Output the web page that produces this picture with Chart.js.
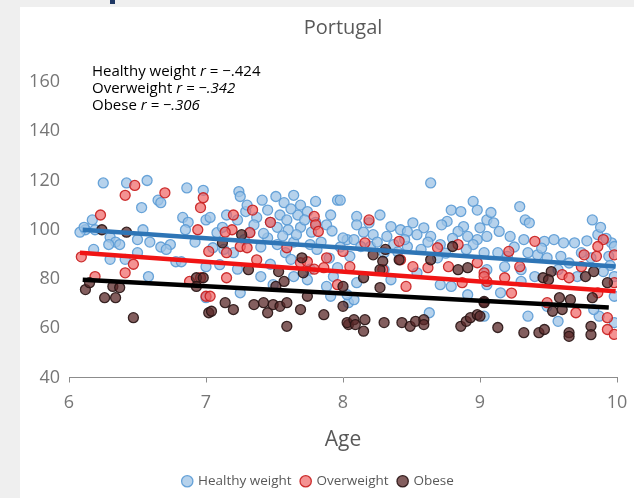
<!DOCTYPE html>
<html>
<head>
<meta charset="utf-8">
<script src="https://cdn.jsdelivr.net/npm/chart.js@4/dist/chart.umd.min.js"></script>
<style>
  html, body { margin: 0; padding: 0; background: #efefef; }
  #wrap { position: absolute; left: 20px; top: 7px; width: 614px; height: 491px; background: #fff; }
  #mark { position: absolute; left: 110px; top: 0; width: 5px; height: 4px; background: #1f3864; }
</style>
</head>
<body>
<div id="mark"></div>
<div id="wrap"><canvas id="chart" width="614" height="491"></canvas></div>
<script>
// [age, weight] pairs
const healthy = [
  [6.25,119],[6.42,119],[6.57,120],[6.53,109],[6.65,112],[6.67,111],[6.86,117],[6.98,116],[6.17,104],[6.12,100],
  [6.19,100],[6.3,97],[6.34,95],[6.37,94],[6.29,94],[6.5,96],[6.54,100],[6.59,95],[6.67,93],[6.74,94],
  [6.71,92],[6.83,105],[6.87,103],[6.85,100],[6.92,95],[7.0,104],[6.18,92],[6.3,88],[6.41,88],[6.5,90.7],
  [6.78,87],[6.82,87],[6.58,81],[7.0,72.4],[6.08,99],[6.11,101],
  [7.24,115.5],[7.25,113.5],[7.41,112],[7.51,113.5],[7.64,114],[7.8,111.5],[7.96,112],[7.57,111],[7.69,110],[7.03,105],
  [7.15,106],[7.23,104],[7.29,107.4],[7.37,105],[7.54,106],[7.59,104],[7.67,106],[7.74,107.4],[7.8,103],[7.91,106],
  [7.88,102],[7.52,101],[7.6,100],[7.69,101],[7.45,96.7],[7.32,99],[7.08,98.8],[7.05,92.7],[7.13,92],[7.2,90.7],
  [7.4,93],[7.52,94],[7.64,95],[7.76,94],[7.84,95],[7.98,93],[8.03,96],[7.0,85],[7.1,85.8],[7.23,84],
  [7.4,81],[7.64,81],[7.74,79.7],[7.76,84],[7.93,81],[7.96,84.6],[7.25,74.4],[7.49,77.7],[7.88,77],[7.91,73],
  [8.04,70.4],[7.81,92],[7.58,90.7],[7.3,110],[7.45,108],[7.62,108.5],[7.72,104],[7.47,103],[7.35,102],[7.56,97.5],
  [7.66,98],[7.77,99],[7.92,99.5],[7.12,101],[7.42,98.5],[7.28,96],[7.9,88.5],[7.62,88],[7.47,86],
  [8.64,119],[8.95,111.5],[8.98,108],[8.79,108],[8.86,107.4],[8.27,106],[8.1,105.4],[8.1,102],[8.19,102.8],[8.35,101.3],
  [8.42,100],[8.51,102.8],[8.59,100.8],[8.76,103.4],[8.72,102],[8.88,101.3],[9.0,100.8],[9.05,104],[8.0,96.7],[8.08,96],
  [8.22,98],[8.32,97.3],[8.47,99.3],[8.54,98],[8.64,97.3],[8.84,99.3],[8.91,97.3],[8.98,96],[8.13,93.2],[8.2,93.2],
  [8.37,94],[8.47,93.2],[8.71,94],[8.95,94],[8.3,90.7],[8.57,92],[8.69,88.6],[8.05,89.2],[8.3,83.8],[8.35,79.7],
  [8.71,77.7],[8.79,77],[8.54,82.5],[8.1,78.5],[8.08,71.6],[8.03,73.6],[8.63,66.3],[9.03,64.9],[8.91,73.6],[9.05,77.7],
  [7.98,112],[8.15,99],[8.45,96],[8.62,95],[8.8,96.5],[8.9,92],[8.25,95],[8.4,91],[8.75,90.5],
  [9.29,109.4],[9.33,104],[9.36,102.8],[9.82,104],[9.08,107],[9.1,102.8],[9.14,99.3],[9.22,97.3],[9.32,96],[9.47,95.3],
  [9.54,96],[9.61,94.7],[9.69,94.7],[9.86,98],[9.96,94.7],[9.98,93.2],[9.03,90.7],[9.13,90.7],[9.2,89.2],[9.35,90.7],
  [9.42,89.8],[9.49,88.6],[9.59,89.2],[9.74,90.7],[9.81,88.6],[9.94,89.2],[9.05,83.8],[9.18,85],[9.3,83.8],[9.4,81],
  [9.57,83.8],[9.71,81],[9.98,81],[9.98,73],[9.15,74.4],[9.3,79],[9.35,64.9],[9.57,62.8],[9.87,64.9],[9.98,62.3],
  [9.49,68.9],[9.83,67.6],[9.05,97.3],[9.88,101],[9.92,96.5],[9.95,85.5],[9.9,83],[9.65,86.5],[9.45,92.5],[9.25,93],
  [9.78,95.5]
];
const overweight = [
  [6.48,118],[6.41,114],[6.7,115],[6.98,113],[6.96,109],[6.23,106],[6.94,100],[6.09,89],[6.47,86],[6.41,82.5],
  [6.19,81],[6.96,80.5],[6.88,79],[7.0,73],
  [7.2,106],[7.34,108],[7.47,103],[7.19,100],[7.14,99],[7.32,98.8],[7.79,105.4],[7.8,102],[7.82,99.3],[7.25,93.2],
  [7.3,92.7],[7.59,92.7],[7.02,91.2],[7.15,90.7],[7.88,88.6],[7.37,87.8],[7.69,86.6],[7.74,87],[7.79,84],[7.86,84.6],
  [7.15,80.5],[7.96,77.7],[7.03,73],
  [8.19,104],[8.41,95.3],[8.69,92.7],[8.84,94],[8.16,94.7],[8.0,91.2],[8.51,85],[8.62,84.6],[8.77,85],[8.42,87.8],
  [8.46,77],[8.98,86.6],[9.03,82.5],[8.05,85],[8.29,83.8],[8.87,78.5],[9.05,79],
  [9.4,95.3],[9.21,91.2],[9.29,85],[9.9,96],[9.86,93.2],[9.98,89.8],[9.76,89.8],[9.85,89.2],[9.6,81.8],[9.65,80.5],
  [9.74,85],[9.18,80.5],[9.23,74.3],[9.03,81],[9.98,78.5],[9.7,66.3],[9.93,64.3],[9.93,59.5],[9.98,57.5],[9.49,70.4],
  [9.86,74.4]
];
const obese = [
  [6.24,100],[6.42,99],[6.12,75.7],[6.15,78.5],[6.32,77],[6.37,76.5],[6.26,72.4],[6.34,72.4],[6.47,64.3],[6.93,80.5],
  [6.93,77],[7.02,66.3],
  [7.26,98],[7.12,94.7],[7.7,88.6],[7.31,83.8],[7.53,83],[7.71,82.5],[7.57,79],[7.51,77],[8.0,77],[6.98,80.5],
  [7.14,70.4],[7.2,67.6],[7.35,69.6],[7.42,70.4],[7.45,66.3],[7.49,69.6],[7.54,68.9],[7.59,70.4],[7.69,67.6],[7.74,73],
  [7.86,65.5],[7.04,66.9],[7.59,60.8],[8.0,68.9],[8.04,61.5],
  [8.31,92],[8.22,89.8],[8.29,87.2],[8.41,87.8],[8.64,87.8],[8.8,93.2],[8.84,83.8],[8.91,84.6],[8.27,83.8],[8.27,76.5],
  [8.15,80.5],[8.03,62.3],[8.08,63.5],[8.09,61.5],[8.16,63.5],[8.15,58.8],[8.3,62.3],[8.43,62.3],[8.49,60.8],[8.53,62.8],
  [8.59,63.5],[8.59,61.5],[8.86,60.8],[8.9,62.8],[8.93,64.3],[8.98,65.5],[9.03,70.9],
  [9.46,80.5],[9.52,83],[9.5,79.7],[9.77,81],[9.83,83],[9.93,78.5],[9.03,70.4],[9.58,72.4],[9.66,71.6],[9.82,72.4],
  [9.53,66.9],[9.6,67.6],[9.13,60.3],[9.32,58.2],[9.43,58.2],[9.47,59.5],[9.65,58.2],[9.65,56.7],[9.81,60.8],[9.81,57.4],
  [9.0,64.9]
];

// trendline end points
const healthyTrendAge = [6.1, 9.99];
const healthyTrend = [100, 85.1];
const overTrendAge = [6.08, 9.99];
const overTrend = [90.7, 75];
const obeseTrendAge = [6.1, 9.94];
const obeseTrend = [79.7, 68.4];

const notes = [
  ['Healthy weight ', 'r', ' = \u2212.424', false],
  ['Overweight ', 'r', ' = \u2212.342', true],
  ['Obese ', 'r', ' = \u2212.306', true]
];

const FONT = '"Open Sans", sans-serif';

function pts(list) { return list.map(p => ({ x: p[0], y: p[1] })); }
function line(ages, vals) { return ages.map((a, i) => ({ x: a, y: vals[i] })); }

// title and r annotations
const extras = {
  id: 'extras',
  afterDraw(chart) {
    const ctx = chart.ctx;
    ctx.save();
    ctx.fillStyle = '#595959';
    ctx.font = '20px ' + FONT;
    ctx.textAlign = 'center';
    ctx.textBaseline = 'middle';
    ctx.fillText('Portugal', 323, 21);

    ctx.textAlign = 'left';
    ctx.fillStyle = '#000';
    notes.forEach((n, i) => {
      let x = 72;
      const y = 65 + i * 17;
      ctx.font = '15px ' + FONT;
      ctx.fillText(n[0], x, y);
      x += ctx.measureText(n[0]).width;
      ctx.font = 'italic 15px ' + FONT;
      ctx.fillText(n[1], x, y);
      x += ctx.measureText(n[1]).width;
      ctx.font = (n[3] ? 'italic ' : '') + '15px ' + FONT;
      ctx.fillText(n[2], x, y);
    });
    ctx.restore();
  }
};

const ctx = document.getElementById('chart').getContext('2d');
new Chart(ctx, {
  type: 'scatter',
  data: {
    datasets: [
      {
        label: 'Healthy weight',
        data: pts(healthy),
        backgroundColor: 'rgba(157, 195, 230, 0.75)',
        borderColor: 'rgba(91, 155, 213, 0.9)',
        borderWidth: 1.3,
        pointRadius: 5,
        order: 4
      },
      {
        label: 'Overweight',
        data: pts(overweight),
        backgroundColor: 'rgba(240, 100, 100, 0.7)',
        borderColor: 'rgba(200, 30, 30, 0.9)',
        borderWidth: 1.3,
        pointRadius: 5,
        order: 3
      },
      {
        label: 'Obese',
        data: pts(obese),
        backgroundColor: 'rgba(90, 40, 40, 0.75)',
        borderColor: 'rgba(40, 20, 20, 0.9)',
        borderWidth: 1.3,
        pointRadius: 5,
        order: 2
      },
      {
        type: 'line',
        label: 'hw trend',
        data: line(healthyTrendAge, healthyTrend),
        borderColor: '#2e75b6',
        borderWidth: 4.5,
        pointRadius: 0,
        order: 1
      },
      {
        type: 'line',
        label: 'ow trend',
        data: line(overTrendAge, overTrend),
        borderColor: '#f01414',
        borderWidth: 4.5,
        pointRadius: 0,
        order: 1
      },
      {
        type: 'line',
        label: 'ob trend',
        data: line(obeseTrendAge, obeseTrend),
        borderColor: '#000',
        borderWidth: 4.5,
        pointRadius: 0,
        order: 0
      }
    ]
  },
  options: {
    responsive: false,
    animation: false,
    layout: { padding: { top: 75, right: 17, left: 0, bottom: 0 } },
    plugins: {
      tooltip: { enabled: false },
      legend: {
        position: 'bottom',
        labels: {
          usePointStyle: true,
          boxWidth: 8,
          boxHeight: 8,
          padding: 10,
          color: '#595959',
          font: { family: FONT, size: 13.5 },
          filter: item => item.datasetIndex < 3,
          sort: (a, b) => a.datasetIndex - b.datasetIndex
        }
      }
    },
    scales: {
      x: {
        type: 'linear',
        min: 6,
        max: 10,
        ticks: { stepSize: 1, color: '#767676', font: { family: FONT, size: 18 }, padding: 10 },
        grid: { drawOnChartArea: false, drawTicks: true, tickLength: 5, color: '#8c8c8c' },
        border: { display: true, color: '#8c8c8c', width: 1 },
        title: { display: true, text: 'Age', color: '#595959', font: { family: FONT, size: 21 }, padding: { top: 4, bottom: 12 } },
        afterFit: s => { s.height = 87; s.paddingLeft = 0; s.paddingRight = 0; }
      },
      y: {
        min: 40,
        max: 160,
        ticks: { stepSize: 20, color: '#767676', font: { family: FONT, size: 18 }, padding: 9 },
        grid: { display: false, drawTicks: false },
        border: { display: false },
        afterFit: s => { s.width = 49; s.paddingTop = 0; s.paddingBottom = 0; }
      }
    }
  },
  plugins: [extras]
});
</script>
</body>
</html>
